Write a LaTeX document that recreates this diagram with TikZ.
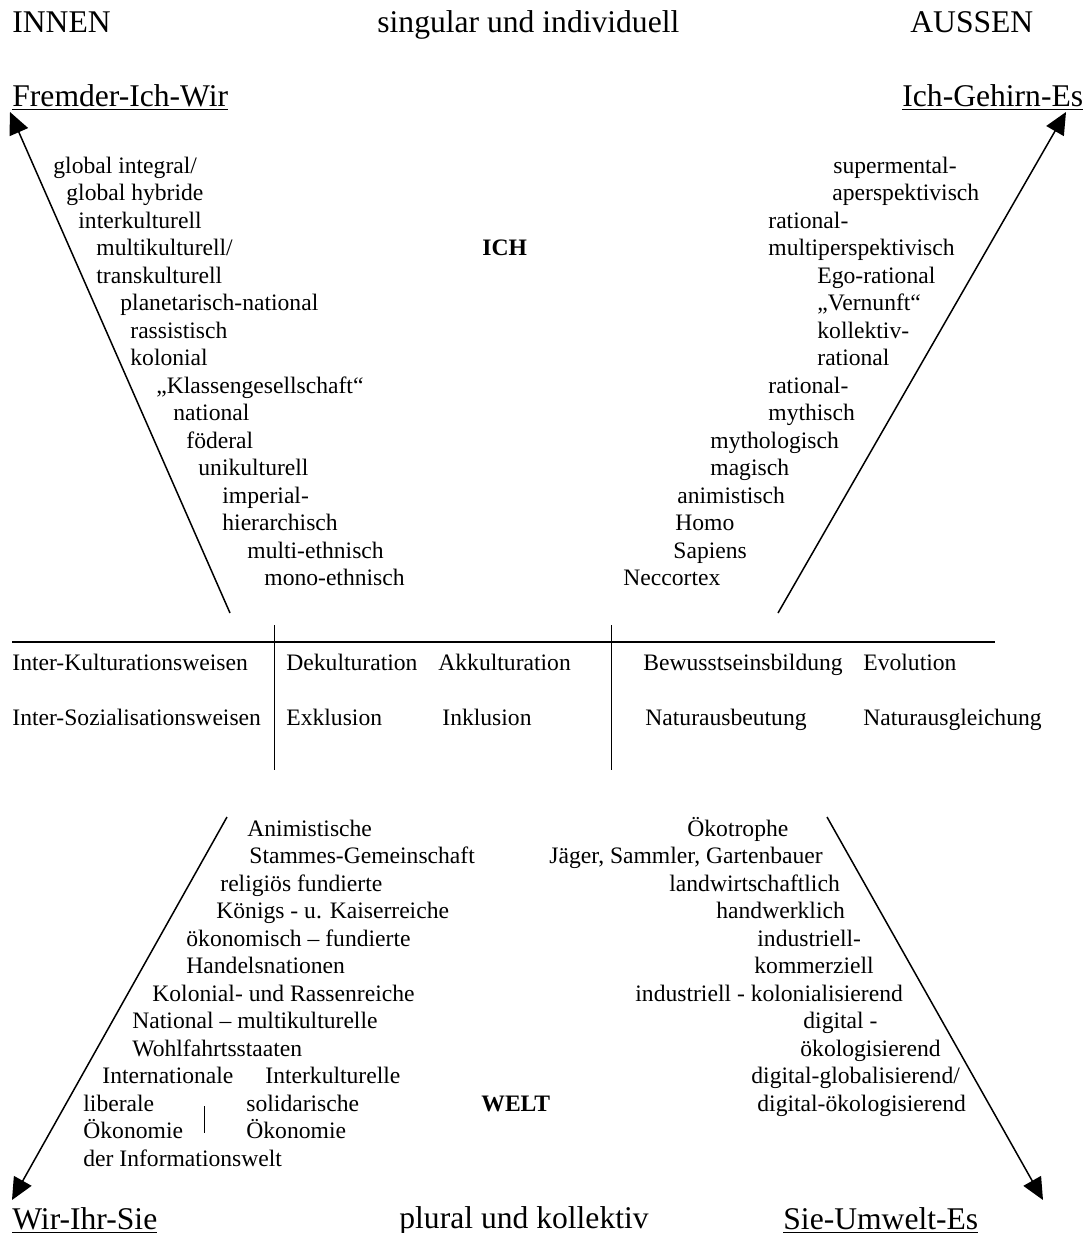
\documentclass[tikz,border=0pt]{standalone}
\usepackage{fontspec}
\setmainfont{Liberation Serif}
\usetikzlibrary{arrows.meta}
\begin{document}
\begin{tikzpicture}[x=0.5pt,y=-0.5pt,
  lbl/.style={anchor=base west, inner sep=0pt, font=\fontsize{11.8}{14}\selectfont},
  blbl/.style={lbl, font=\fontsize{11.8}{14}\selectfont\bfseries},
  hdr/.style={anchor=base west, inner sep=0pt, font=\fontsize{15.8}{19}\selectfont},
  arr/.style={line width=0.75pt, -{Triangle[length=11pt,width=10pt]}},
  thinln/.style={line width=0.5pt},
  thickln/.style={line width=1pt}]
\useasboundingbox (0,0) rectangle (1085,1233);
% headers
\node[hdr] (innen) at (12,32) {INNEN};
\node[hdr] (singular) at (377,32) {singular und individuell};
\node[hdr] (aussen) at (910,32) {AUSSEN};
\node[hdr] (fremder) at (12,106) {\underline{Fremder-Ich-Wir}};
\node[hdr] (gehirn) at (902,106) {\underline{Ich-Gehirn-Es}};
\node[hdr] (wir) at (12,1229) {\underline{Wir-Ihr-Sie}};
\node[hdr] (plural) at (399,1228) {plural und kollektiv};
\node[hdr] (umwelt) at (783,1229) {\underline{Sie-Umwelt-Es}};
% arrow coordinates
\coordinate (tlS) at (230,613); \coordinate (tlE) at (10,112);
\coordinate (trS) at (778,613); \coordinate (trE) at (1066,112);
\coordinate (blS) at (227,817); \coordinate (blE) at (12,1200);
\coordinate (brS) at (827,817); \coordinate (brE) at (1043,1200);
\draw[arr] (tlS) -- (tlE);
\draw[arr] (trS) -- (trE);
\draw[arr] (blS) -- (blE);
\draw[arr] (brS) -- (brE);
% table lines
\coordinate (hA) at (12,642); \coordinate (hB) at (995,642);
\coordinate (v1a) at (274,625); \coordinate (v1b) at (274,770);
\coordinate (v2a) at (611,625); \coordinate (v2b) at (611,770);
\draw[thickln] (hA) -- (hB);
\draw[thinln] (v1a) -- (v1b);
\draw[thinln] (v2a) -- (v2b);
% table text
\node[lbl] (t11) at (12,670) {Inter-Kulturationsweisen};
\node[lbl] (t12) at (286,670) {Dekulturation};
\node[lbl] (t13) at (438,670) {Akkulturation};
\node[lbl] (t14) at (643,670) {Bewusstseinsbildung};
\node[lbl] (t15) at (863,670) {Evolution};
\node[lbl] (t21) at (12,725) {Inter-Sozialisationsweisen};
\node[lbl] (t22) at (286,725) {Exklusion};
\node[lbl] (t23) at (442,725) {Inklusion};
\node[lbl] (t24) at (645,725) {Naturausbeutung};
\node[lbl] (t25) at (863,725) {Naturausgleichung};
% top-left list
\node[lbl] (a1) at (53,173) {global integral/};
\node[lbl] (a2) at (66,200.5) {global hybride};
\node[lbl] (a3) at (78,228) {interkulturell};
\node[lbl] (a4) at (96,255.5) {multikulturell/};
\node[lbl] (a5) at (96,283) {transkulturell};
\node[lbl] (a6) at (120,310.5) {planetarisch-national};
\node[lbl] (a7) at (130,338) {rassistisch};
\node[lbl] (a8) at (130,365.5) {kolonial};
\node[lbl] (a9) at (156,393) {„Klassengesellschaft“};
\node[lbl] (a10) at (173,420.5) {national};
\node[lbl] (a11) at (186,448) {föderal};
\node[lbl] (a12) at (198,475.5) {unikulturell};
\node[lbl] (a13) at (222,503) {imperial-};
\node[lbl] (a14) at (222,530.5) {hierarchisch};
\node[lbl] (a15) at (247,558) {multi-ethnisch};
\node[lbl] (a16) at (264,585.5) {mono-ethnisch};
\node[blbl] (ich) at (482,255.5) {ICH};
% top-right list
\node[lbl] (b1) at (833,173) {supermental-};
\node[lbl] (b2) at (832,200.5) {aperspektivisch};
\node[lbl] (b3) at (768,228) {rational-};
\node[lbl] (b4) at (768,255.5) {multiperspektivisch};
\node[lbl] (b5) at (817,283) {Ego-rational};
\node[lbl] (b6) at (817,310.5) {„Vernunft“};
\node[lbl] (b7) at (817,338) {kollektiv-};
\node[lbl] (b8) at (817,365.5) {rational};
\node[lbl] (b9) at (768,393) {rational-};
\node[lbl] (b10) at (768,420.5) {mythisch};
\node[lbl] (b11) at (710,448) {mythologisch};
\node[lbl] (b12) at (710,475.5) {magisch};
\node[lbl] (b13) at (677,503) {animistisch};
\node[lbl] (b14) at (675,530.5) {Homo};
\node[lbl] (b15) at (673,558) {Sapiens};
\node[lbl] (b16) at (623,585.5) {Neccortex};
% bottom-left list
\node[lbl] (c1) at (247,836) {Animistische};
\node[lbl] (c2) at (249,863.5) {Stammes-Gemeinschaft};
\node[lbl] (c3) at (220,891) {religiös fundierte};
\node[lbl] (c4) at (216,918.5) {Königs - u. Kaiserreiche};
\node[lbl] (c5) at (186,946) {ökonomisch – fundierte};
\node[lbl] (c6) at (186,973.5) {Handelsnationen};
\node[lbl] (c7) at (152,1001) {Kolonial- und Rassenreiche};
\node[lbl] (c8) at (132,1028.5) {National – multikulturelle};
\node[lbl] (c9) at (132,1056) {Wohlfahrtsstaaten};
\node[lbl] (c10) at (102,1083.5) {Internationale};
\node[lbl] (c10b) at (265,1083.5) {Interkulturelle};
\node[lbl] (c11) at (83,1111) {liberale};
\node[lbl] (c11b) at (246,1111) {solidarische};
\node[lbl] (c12) at (83,1138.5) {Ökonomie};
\node[lbl] (c12b) at (246,1138.5) {Ökonomie};
\node[lbl] (c13) at (83,1166) {der Informationswelt};
\coordinate (barA) at (204,1106); \coordinate (barB) at (204,1133);
\draw[thinln] (barA) -- (barB);
\node[blbl] (welt) at (481,1111) {WELT};
% bottom-right list
\node[lbl] (d1) at (687,836) {Ökotrophe};
\node[lbl] (d2) at (549,863.5) {Jäger, Sammler, Gartenbauer};
\node[lbl] (d3) at (669,891) {landwirtschaftlich};
\node[lbl] (d4) at (716,918.5) {handwerklich};
\node[lbl] (d5) at (757,946) {industriell-};
\node[lbl] (d6) at (754,973.5) {kommerziell};
\node[lbl] (d7) at (635,1001) {industriell - kolonialisierend};
\node[lbl] (d8) at (803,1028.5) {digital -};
\node[lbl] (d9) at (800,1056) {ökologisierend};
\node[lbl] (d10) at (751,1083.5) {digital-globalisierend/};
\node[lbl] (d11) at (757,1111) {digital-ökologisierend};
\end{tikzpicture}
\end{document}
